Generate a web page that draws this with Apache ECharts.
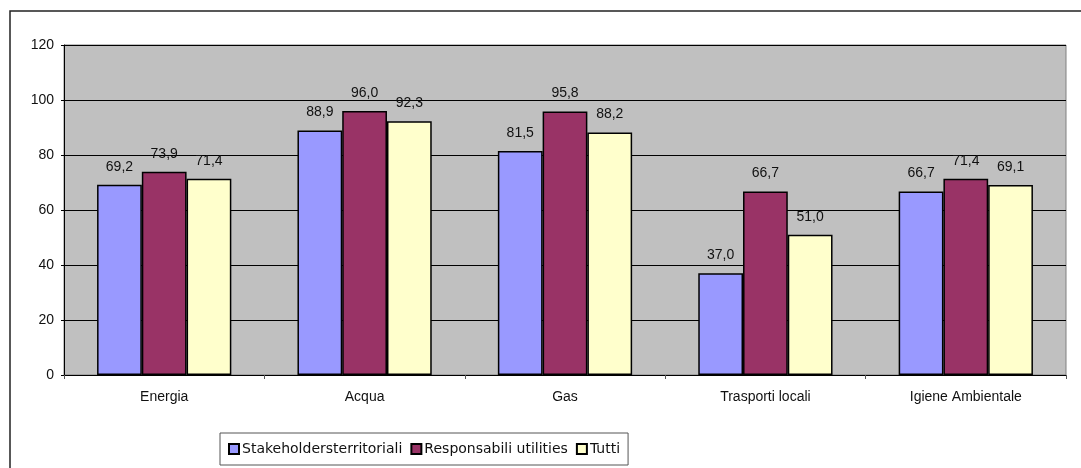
<!DOCTYPE html>
<html>
<head>
<meta charset="utf-8">
<script src="https://cdn.jsdelivr.net/npm/echarts@6/dist/echarts.min.js"></script>
<style>
html,body{margin:0;padding:0;background:#fff;}
#c{width:1081px;height:468px;}
</style>
</head>
<body>
<div id="c"></div>
<script>
var categories = ['Energia', 'Acqua', 'Gas', 'Trasporti locali', 'Igiene Ambientale'];
var seriesNames = ['Stakeholdersterritoriali', 'Responsabili utilities', 'Tutti'];
var stakeholders = [69.2, 88.9, 81.5, 37.0, 66.7];
var responsabili = [73.9, 96.0, 95.8, 66.7, 71.4];
var tutti = [71.4, 92.3, 88.2, 51.0, 69.1];
var colors = ['#9999FF', '#993366', '#FFFFCC'];

var chart = echarts.init(document.getElementById('c'), null, {renderer: 'canvas'});
var font = '"Liberation Sans", Arial, sans-serif';
function mk(name, data, color) {
  return {
    name: name, type: 'bar', data: data,
    barGap: '0%', barCategoryGap: '33%',
    itemStyle: {color: color, borderColor: '#000', borderWidth: 1.5},
    label: {
      show: true, position: 'top', distance: 11,
      color: '#111', fontSize: 14, fontFamily: font,
      formatter: function (p) { return p.value.toFixed(1).replace('.', ','); }
    },
    emphasis: {disabled: true}
  };
}
chart.setOption({
  animation: false,
  backgroundColor: '#fff',
  graphic: [{
    type: 'rect', shape: {x: 10, y: 11, width: 1100, height: 500},
    style: {fill: 'none', stroke: '#222', lineWidth: 1.5}, z: -1
  }],
  grid: {
    left: 64, right: 15, top: 45, bottom: 93,
    show: true, backgroundColor: '#C0C0C0', borderColor: '#808080', borderWidth: 1
  },
  legend: {
    left: 220, top: 433, width: 420,
    padding: [9, 8, 9, 8],
    borderColor: '#555', borderWidth: 1,
    itemWidth: 10, itemHeight: 10, itemGap: 8,
    icon: 'rect',
    textStyle: {fontSize: 14, fontFamily: '"DejaVu Sans", sans-serif', color: '#111', padding: [0, 0, 0, -2]},
    data: seriesNames
  },
  xAxis: {
    type: 'category', data: categories,
    axisLine: {lineStyle: {color: '#000', width: 1}},
    axisTick: {show: true, length: 4, lineStyle: {color: '#555'}},
    axisLabel: {color: '#111', fontSize: 14, fontFamily: font, margin: 15}
  },
  yAxis: {
    type: 'value', min: 0, max: 120, interval: 20,
    axisLine: {show: true, lineStyle: {color: '#000', width: 1}},
    axisTick: {show: true, length: 3, lineStyle: {color: '#000'}},
    axisLabel: {color: '#111', fontSize: 14, fontFamily: font, margin: 10},
    splitLine: {show: true, lineStyle: {color: '#000', width: 1}}
  },
  series: [
    mk(seriesNames[0], stakeholders, colors[0]),
    mk(seriesNames[1], responsabili, colors[1]),
    mk(seriesNames[2], tutti, colors[2])
  ]
});
</script>
</body>
</html>
